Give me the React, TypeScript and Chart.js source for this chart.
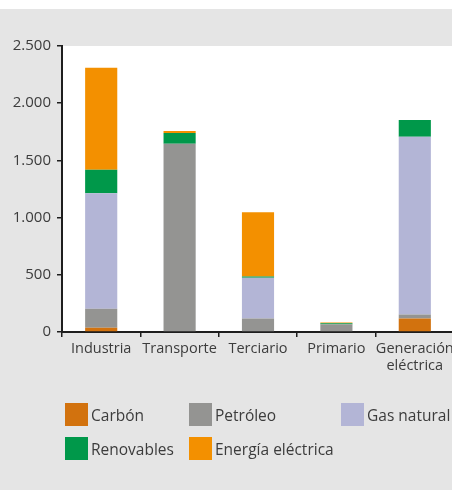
import React, { useEffect, useRef } from "react";
import { Chart, registerables } from "chart.js";
Chart.register(...registerables);

const categories: (string | string[])[] = ["Industria", "Transporte", "Terciario", "Primario", ["Generación", "eléctrica"]];
const seriesNames = ["Carbón", "Petróleo", "Gas natural", "Renovables", "Energía eléctrica"];
const carbon = [38, 0, 0, 0, 119];
const petroleo = [166, 1646, 117, 67, 33];
const gasNatural = [1009, 0, 357, 0, 1555];
const renovables = [205, 93, 11, 10, 146];
const electrica = [892, 18, 561, 7, 0];
const yMax = 2500;
const yStep = 500;

const seriesValues = [carbon, petroleo, gasNatural, renovables, electrica];
const seriesColors = ["#d2720e", "#949492", "#b3b5d6", "#00984a", "#f39000"];

const FONT = "'Open Sans', 'Noto Sans', sans-serif";
const TEXT = "#3c3c3c";
const AXIS = "#1e1e1e";

const legendCols = [65, 189, 341];
const legendRows = [403, 437];

export default function App() {
  const ref = useRef<HTMLCanvasElement | null>(null);
  useEffect(() => {
    const plotBg = {
      id: "plotBg",
      beforeDraw(chart: any) {
        const { ctx, chartArea: a } = chart;
        ctx.save();
        ctx.fillStyle = "#ffffff";
        ctx.fillRect(a.left, a.top, a.right - a.left, a.bottom - a.top);
        ctx.restore();
      },
    };
    const chart = new Chart(ref.current as HTMLCanvasElement, {
      type: "bar",
      data: {
        labels: categories,
        datasets: seriesNames.map((name, i) => ({
          label: name,
          data: seriesValues[i],
          backgroundColor: seriesColors[i],
          borderWidth: 0,
          barPercentage: 0.41,
          categoryPercentage: 1.0,
        })),
      },
      options: {
        responsive: false,
        animation: false,
        layout: { padding: { top: 37, left: 0, right: 16, bottom: 98 } },
        plugins: { legend: { display: false }, tooltip: { enabled: false } },
        scales: {
          x: {
            stacked: true,
            grid: { drawOnChartArea: false, offset: true, tickLength: 5, color: AXIS, lineWidth: 1.5 },
            border: { color: AXIS, width: 2 },
            ticks: { color: TEXT, font: { family: FONT, size: 14.5 }, padding: 3, maxRotation: 0, autoSkip: false },
            afterFit: (s: any) => { s.height = 60; },
          },
          y: {
            stacked: true,
            min: 0,
            max: yMax,
            grid: { drawOnChartArea: false, tickLength: 5, color: AXIS, lineWidth: 1.5 },
            border: { color: AXIS, width: 2 },
            ticks: {
              stepSize: yStep,
              color: TEXT,
              padding: 6,
              font: { family: FONT, size: 15 },
              callback: (v: any) => Number(v).toString().replace(/\B(?=(\d{3})+(?!\d))/g, "."),
            },
            afterFit: (s: any) => { s.width = 62; },
          },
        },
      },
      plugins: [plotBg],
    });
    return () => chart.destroy();
  }, []);

  return (
    <div style={{ position: "fixed", left: 0, top: 0, width: 452, height: 490, overflow: "hidden", background: "#ffffff" }}>
      <div style={{ position: "absolute", left: 0, top: 9, width: 452, height: 481, background: "#e5e5e5" }}>
        <canvas ref={ref} width={470} height={481} style={{ display: "block", width: 470, height: 481 }} />
      </div>
      {seriesNames.map((name, i) => (
        <div
          key={name}
          style={{
            position: "absolute",
            left: legendCols[i % 3],
            top: legendRows[Math.floor(i / 3)],
            display: "flex",
            alignItems: "center",
            height: 23,
            fontFamily: FONT,
            fontSize: 15.5,
            color: TEXT,
            whiteSpace: "nowrap",
          }}
        >
          <span style={{ display: "inline-block", width: 23, height: 23, background: seriesColors[i], marginRight: 3 }} />
          <span>{name}</span>
        </div>
      ))}
    </div>
  );
}
